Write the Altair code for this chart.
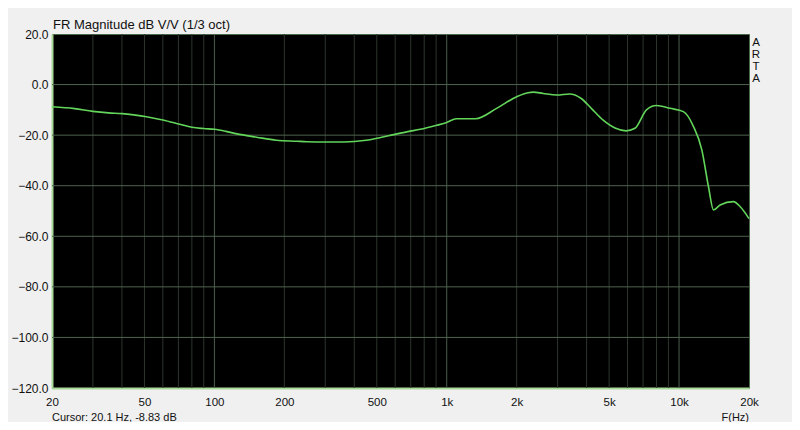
import altair as alt
import pandas as pd

# Frequency response (1/3 oct)
freq = [20, 25, 30, 35, 40, 45, 51, 60, 71, 80, 90, 100, 112, 125, 152, 185, 226,
        250, 300, 360, 450, 520, 590, 680, 770, 905, 1000, 1100, 1330, 1640, 2000,
        2240, 2360, 2600, 2980, 3380, 3780, 4200, 4700, 5300, 5910, 6460, 7240,
        8000, 9140, 10440, 11540, 12530, 13380, 14070, 15020, 17130, 18340, 20000]
mag = [-8.8, -9.5, -10.6, -11.2, -11.5, -12.0, -12.7, -14.0, -15.7, -16.9, -17.4,
       -17.7, -18.5, -19.5, -20.8, -22.0, -22.4, -22.6, -22.7, -22.7, -22.0, -20.9,
       -19.8, -18.6, -17.7, -16.1, -15.0, -13.5, -13.5, -9.4, -4.8, -3.2, -3.0,
       -3.5, -4.1, -3.7, -5.4, -9.5, -14.0, -17.2, -18.3, -17.3, -10.0, -8.3, -9.4,
       -10.7, -16.6, -25.8, -40.3, -49.6, -47.6, -46.3, -48.3, -53.0]

x_labels = [20, 50, 100, 200, 500, 1000, 2000, 5000, 10000, 20000]
y_ticks = [20, 0, -20, -40, -60, -80, -100, -120]
minor_grid = [30, 40, 50, 60, 70, 80, 90,
              200, 300, 400, 500, 600, 700, 800, 900,
              2000, 3000, 4000, 5000, 6000, 7000, 8000, 9000]
decade_grid = [100, 1000, 10000]
h_grid = [0, -20, -40, -60, -80, -100]

title_text = "FR Magnitude dB V/V (1/3 oct)"
cursor_text = "Cursor: 20.1 Hz, -8.83 dB"
xunit_text = "F(Hz)"

W, H = 697, 354
FONT = "Liberation Sans"

xscale = alt.Scale(type="log", domain=[20, 20000], nice=False)
yscale = alt.Scale(domain=[-120, 20], nice=False, zero=False)

x_axis = alt.Axis(values=x_labels, grid=False, ticks=False, domain=True,
                  domainColor="#a8d898", domainWidth=2, title=None,
                  labelFont=FONT, labelFontSize=11.5, labelColor="#111",
                  labelPadding=8, labelFlush=False,
                  labelExpr="datum.value >= 1000 ? (datum.value/1000) + 'k' : datum.value")
y_axis = alt.Axis(values=y_ticks, grid=False, ticks=False, domain=True,
                  domainColor="#a8d898", domainWidth=2, title=None,
                  labelFont=FONT, labelFontSize=12, labelColor="#111",
                  labelPadding=4, format=".1f", labelFlush=False)

df = pd.DataFrame({"f": freq, "db": mag})

minor = alt.Chart(pd.DataFrame({"f": minor_grid})).mark_rule(
    color="#2c362c", strokeWidth=1).encode(x=alt.X("f:Q", scale=xscale, axis=x_axis))
decade = alt.Chart(pd.DataFrame({"f": decade_grid})).mark_rule(
    color="#4c5e4e", strokeWidth=1).encode(x=alt.X("f:Q", scale=xscale, axis=x_axis))
hgrid = alt.Chart(pd.DataFrame({"db": h_grid})).mark_rule(
    color="#4e644e", strokeWidth=1).encode(y=alt.Y("db:Q", scale=yscale, axis=y_axis))

line = alt.Chart(df).mark_line(color="#62d55a", strokeWidth=1.6,
                               interpolate="monotone").encode(
    x=alt.X("f:Q", scale=xscale, axis=x_axis),
    y=alt.Y("db:Q", scale=yscale, axis=y_axis))

title = alt.Chart(pd.DataFrame({"t": [title_text]})).mark_text(
    font=FONT, fontSize=13, color="#111", align="left", baseline="alphabetic").encode(
    text="t:N", x=alt.value(1), y=alt.value(-5))
cursor = alt.Chart(pd.DataFrame({"t": [cursor_text]})).mark_text(
    font=FONT, fontSize=11, color="#111", align="left", baseline="alphabetic").encode(
    text="t:N", x=alt.value(0), y=alt.value(387))
xunit = alt.Chart(pd.DataFrame({"t": [xunit_text]})).mark_text(
    font=FONT, fontSize=11, color="#111", align="right", baseline="alphabetic").encode(
    text="t:N", x=alt.value(W), y=alt.value(387))
arta = alt.Chart(pd.DataFrame({"t": ["ARTA"]})).mark_text(
    font=FONT, fontSize=11.5, color="#111", align="center", baseline="top",
    text=["A", "R", "T", "A"], lineHeight=12).encode(
    x=alt.value(W + 7), y=alt.value(3))

chart = alt.layer(minor, decade, hgrid, line, title, cursor, xunit, arta).properties(
    width=W, height=H,
    autosize=alt.AutoSizeParams(type="none"),
    padding={"left": 44, "top": 26, "right": 43, "bottom": 34},
    background="#f0f0f0",
).configure_view(fill="black", stroke="#4a6a4a", strokeWidth=1)

chart.save("out.html", embed_options={"renderer": "svg", "actions": False})
